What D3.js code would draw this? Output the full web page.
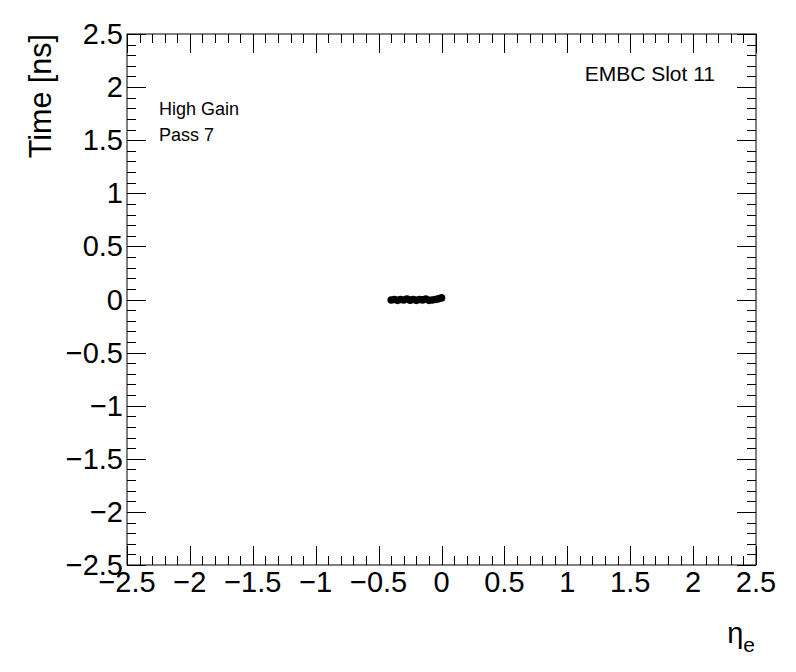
<!DOCTYPE html>
<html>
<head>
<meta charset="utf-8">
<script src="https://cdn.jsdelivr.net/npm/d3@7"></script>
<style>
  body { margin: 0; background: #fff; }
  text { font-family: "Liberation Sans", Arial, sans-serif; fill: #000; }
</style>
</head>
<body>
<div id="chart"></div>
<script>
// eta positions of the cells and their fitted time offsets
var etaValues = [-0.4, -0.375, -0.35, -0.325, -0.3, -0.275, -0.25, -0.225, -0.2,
  -0.175, -0.15, -0.125, -0.1, -0.075, -0.05, -0.025, 0.0];
var timeValues = [-0.005, 0.0, -0.008, 0.0, -0.005, 0.004, -0.006, 0.0, -0.008,
  0.0, -0.004, 0.004, -0.008, -0.005, 0.0, 0.006, 0.015];
var xTicks = [-2.5, -2, -1.5, -1, -0.5, 0, 0.5, 1, 1.5, 2, 2.5];
var yTicks = [-2.5, -2, -1.5, -1, -0.5, 0, 0.5, 1, 1.5, 2, 2.5];
var labels = ['High Gain', 'Pass 7'];
var slotLabel = 'EMBC Slot 11';

var width = 796, height = 672;
var margin = {left: 127, right: 40, top: 34, bottom: 107};
var plotW = width - margin.left - margin.right;
var plotH = height - margin.top - margin.bottom;

var svg = d3.select('#chart').append('svg').attr('width', width).attr('height', height);
var g = svg.append('g').attr('transform', 'translate(' + margin.left + ',' + margin.top + ')');

var x = d3.scaleLinear().domain([-2.5, 2.5]).range([0, plotW]);
var y = d3.scaleLinear().domain([-2.5, 2.5]).range([plotH, 0]);

var minorX = d3.range(-2.5, 2.5001, 0.1).map(function(d) { return Math.round(d * 10) / 10; });
var minorY = minorX.slice();
var fmt = function(d) { return d3.format('')(d); };

function isMajor(d) { return Math.abs(d * 2 - Math.round(d * 2)) < 1e-6; }

// frame
g.append('rect').attr('width', plotW).attr('height', plotH)
  .attr('fill', 'none').attr('stroke', '#000').attr('stroke-width', 1);

// ticks on all four sides, pointing inward
var ticks = g.append('g').attr('stroke', '#000').attr('stroke-width', 1);
minorX.forEach(function(d) {
  var len = isMajor(d) ? 19 : 9;
  var px = Math.round(x(d)) + 0.5;
  ticks.append('line').attr('x1', px).attr('x2', px).attr('y1', plotH).attr('y2', plotH - len);
  ticks.append('line').attr('x1', px).attr('x2', px).attr('y1', 0).attr('y2', len);
});
minorY.forEach(function(d) {
  var len = isMajor(d) ? 19 : 9;
  var py = Math.round(y(d)) + 0.5;
  ticks.append('line').attr('x1', 0).attr('x2', len).attr('y1', py).attr('y2', py);
  ticks.append('line').attr('x1', plotW).attr('x2', plotW - len).attr('y1', py).attr('y2', py);
});

// tick labels
g.selectAll('.xl').data(xTicks).enter().append('text')
  .attr('x', function(d) { return x(d); })
  .attr('y', plotH + 27)
  .attr('text-anchor', 'middle')
  .attr('font-size', 29)
  .text(fmt);

g.selectAll('.yl').data(yTicks).enter().append('text')
  .attr('x', -4)
  .attr('y', function(d) { return y(d) + 10; })
  .attr('text-anchor', 'end')
  .attr('font-size', 29)
  .text(fmt);

// axis titles
var xt = svg.append('text').attr('x', 755).attr('y', 643)
  .attr('text-anchor', 'end').attr('font-size', 29);
xt.append('tspan').text('η');
xt.append('tspan').attr('font-size', 21).attr('dy', 9).text('e');

svg.append('text')
  .attr('transform', 'translate(51,34) rotate(-90)')
  .attr('text-anchor', 'end')
  .attr('font-size', 30.5)
  .text('Time [ns]');

// annotations
svg.append('text').attr('x', 715).attr('y', 81).attr('text-anchor', 'end')
  .attr('font-size', 21).text(slotLabel);
labels.forEach(function(t, i) {
  svg.append('text').attr('x', 159).attr('y', 115 + i * 26)
    .attr('font-size', 18).text(t);
});

// data points
g.selectAll('circle').data(etaValues).enter().append('circle')
  .attr('cx', function(d) { return x(d); })
  .attr('cy', function(d, i) { return y(timeValues[i]); })
  .attr('r', 3.8)
  .attr('fill', '#000');
</script>
</body>
</html>
